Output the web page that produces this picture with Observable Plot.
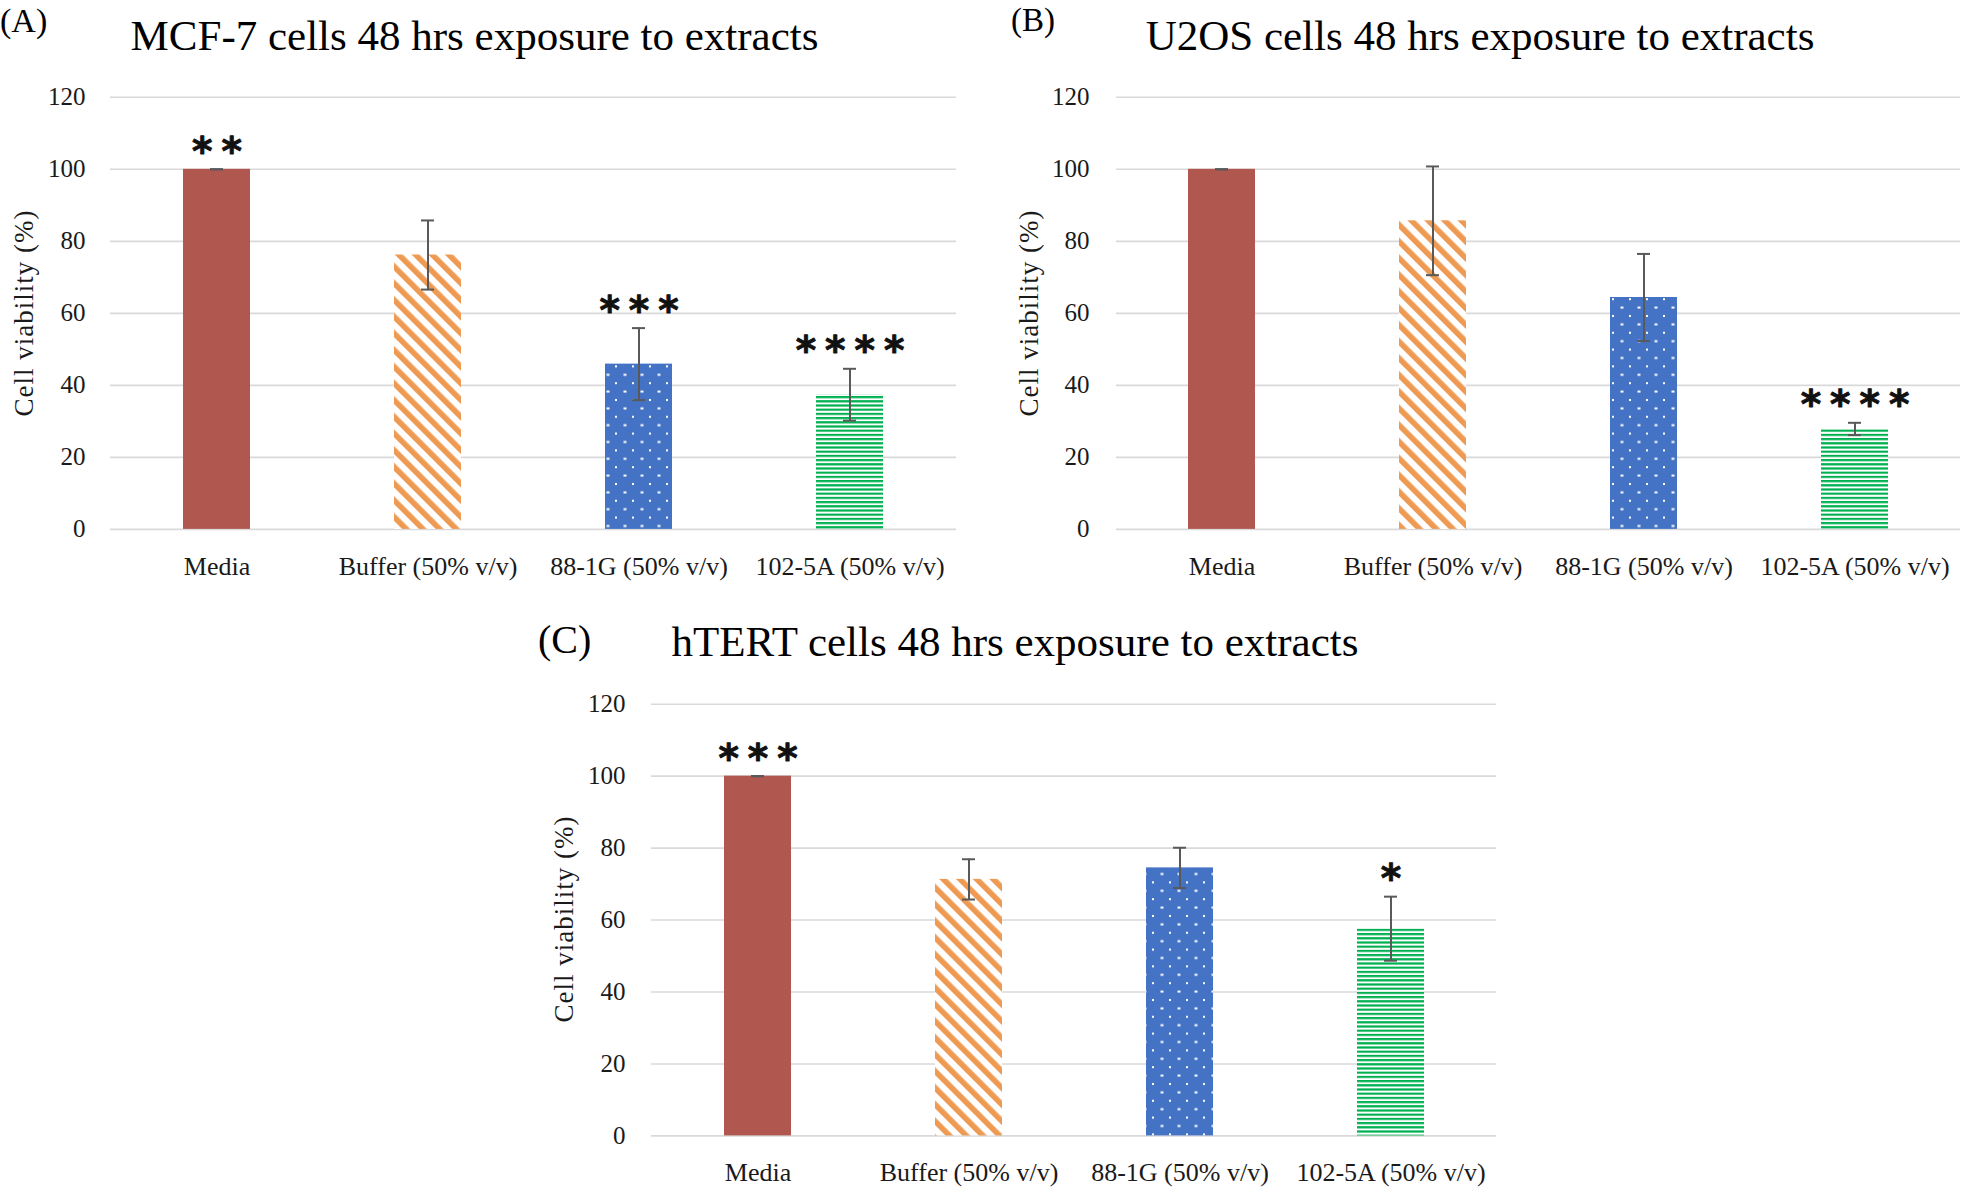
<!DOCTYPE html>
<html><head><meta charset="utf-8">
<script src="https://cdn.jsdelivr.net/npm/d3@7"></script>
<script src="https://cdn.jsdelivr.net/npm/@observablehq/plot@0.6"></script>
<style>
html,body{margin:0;padding:0;background:#fff;}
#root{position:relative;width:1961px;height:1187px;overflow:hidden;font-family:"Liberation Serif",serif;}
.panel{position:absolute;}
</style></head><body><div id="root"></div>
<script>
// ---- data ----
const categories = ["Media", "Buffer (50% v/v)", "88-1G (50% v/v)", "102-5A (50% v/v)"];
const yTicks = [0, 20, 40, 60, 80, 100, 120];

const mcf7Values = [100, 76.2, 45.9, 37.4];
const mcf7Errors = [0, 9.6, 10.0, 7.2];
const mcf7Stars  = ["**", "", "***", "****"];

const u2osValues = [100, 85.7, 64.4, 27.9];
const u2osErrors = [0, 15.1, 12.1, 1.7];
const u2osStars  = ["", "", "", "****"];

const htertValues = [100, 71.3, 74.5, 57.6];
const htertErrors = [0, 5.6, 5.6, 8.9];
const htertStars  = ["***", "", "", "*"];

const titles = ["MCF-7 cells 48 hrs exposure to extracts", "U2OS cells 48 hrs exposure to extracts", "hTERT cells 48 hrs exposure to extracts"];
const letters = ["(A)", "(B)", "(C)"];
const yLabel = "Cell viability (%)";

const fills = ["#B0584F", "url(#pat-stripe)", "url(#pat-dots)", "url(#pat-hlines)"];

// ---- patterns ----
const root = document.getElementById("root");
root.insertAdjacentHTML("beforeend", `
<svg width="0" height="0" style="position:absolute;left:0;top:0">
 <defs>
  <pattern id="pat-stripe" patternUnits="userSpaceOnUse" width="11.8" height="11.8" patternTransform="rotate(-45)">
    <rect width="11.8" height="11.8" fill="#fff"/>
    <rect width="5.6" height="11.8" fill="#EE9A52"/>
  </pattern>
  <pattern id="pat-dots" patternUnits="userSpaceOnUse" width="17" height="16.8">
    <rect width="17" height="16.8" fill="#4472C4"/>
    <rect x="3" y="3" width="2" height="2" fill="#fff"/>
    <rect x="11.5" y="11.4" width="3" height="2" fill="#fff"/>
  </pattern>
  <pattern id="pat-hlines" patternUnits="userSpaceOnUse" width="10" height="4.2">
    <rect width="10" height="4.2" fill="#fff"/>
    <rect width="10" height="2.2" fill="#00B050"/>
  </pattern>
 </defs>
</svg>`);

function makeData(values, errors, stars) {
  return categories.map((c, i) => ({cat: c, value: values[i], err: errors[i], stars: stars[i], fill: fills[i]}));
}

function panel(data, o) {
  const lo = d => d.value - d.err, hi = d => d.value + d.err;
  const svg = Plot.plot({
    width: o.width, height: o.height,
    marginTop: o.mt, marginBottom: o.mb, marginLeft: o.ml, marginRight: o.mr,
    style: {fontFamily: "Liberation Serif", fontSize: "26px", color: "#1a1a1a", background: "transparent", overflow: "visible"},
    x: {domain: categories, paddingInner: 0.683, paddingOuter: 0.3415, label: null},
    y: {domain: [0, 120], label: null},
    color: {type: "identity"},
    marks: [
      Plot.gridY(yTicks, {stroke: "#D9D9D9", strokeOpacity: 1, strokeWidth: 1.6}),
      Plot.axisY({ticks: yTicks, tickSize: 0, tickPadding: o.yPad, label: null}),
      Plot.axisX({tickSize: 0, tickPadding: 27, label: null}),
      Plot.barY(data, {x: "cat", y: "value", fill: "fill"}),
      Plot.ruleX(data, {x: "cat", y1: lo, y2: hi, stroke: "#595959", strokeWidth: 2}),
      Plot.tickY(data, {x: "cat", y: lo, stroke: "#595959", strokeWidth: 2, insetLeft: 27, insetRight: 27}),
      Plot.tickY(data, {x: "cat", y: hi, stroke: "#595959", strokeWidth: 2, insetLeft: 27, insetRight: 27}),
      Plot.text(data.filter(d => d.stars), {x: "cat", y: hi, text: "stars", dy: -17, dx: 4.5,
        fontSize: 39, fontWeight: "bold", fontFamily: "DejaVu Sans", fill: "#111",
        stroke: "#111", strokeWidth: 0.9, className: "stars"})
    ]
  });
  svg.querySelectorAll('[aria-label="y-axis tick label"]').forEach(g => g.setAttribute("font-size", "25"));
  svg.querySelectorAll('.stars text, text.stars, .stars').forEach(t => t.style.letterSpacing = "9px");
  svg.classList.add("panel");
  svg.style.left = o.left + "px";
  svg.style.top = o.top + "px";
  root.appendChild(svg);
}

panel(makeData(mcf7Values, mcf7Errors, mcf7Stars),
  {left: 0, top: 60, width: 980, height: 540, mt: 36.8, mb: 71.1, ml: 110, mr: 24, yPad: 25});
panel(makeData(u2osValues, u2osErrors, u2osStars),
  {left: 980, top: 60, width: 981, height: 540, mt: 36.8, mb: 71.1, ml: 136, mr: 1, yPad: 27});
panel(makeData(htertValues, htertErrors, htertStars),
  {left: 520, top: 660, width: 1000, height: 527, mt: 43.7, mb: 51.6, ml: 131, mr: 24, yPad: 26});

// ---- overlay text ----
const ov = `
<svg width="1961" height="1187" style="position:absolute;left:0;top:0;pointer-events:none" font-family="Liberation Serif" fill="#000">
  <text x="474.5" y="50" font-size="43" text-anchor="middle">${titles[0]}</text>
  <text x="1480" y="50" font-size="43" text-anchor="middle">${titles[1]}</text>
  <text x="1015" y="656" font-size="43" text-anchor="middle">${titles[2]}</text>
  <text x="0" y="32" font-size="34">${letters[0]}</text>
  <text x="1011" y="30.5" font-size="33">${letters[1]}</text>
  <text x="538" y="653" font-size="40">${letters[2]}</text>
  <text transform="translate(32.7,313) rotate(-90)" font-size="27" letter-spacing="1" text-anchor="middle" fill="#1a1a1a">${yLabel}</text>
  <text transform="translate(1037.7,313) rotate(-90)" font-size="27" letter-spacing="1" text-anchor="middle" fill="#1a1a1a">${yLabel}</text>
  <text transform="translate(572.6,919) rotate(-90)" font-size="27" letter-spacing="1" text-anchor="middle" fill="#1a1a1a">${yLabel}</text>
</svg>`;
root.insertAdjacentHTML("beforeend", ov);
</script>
</body></html>
